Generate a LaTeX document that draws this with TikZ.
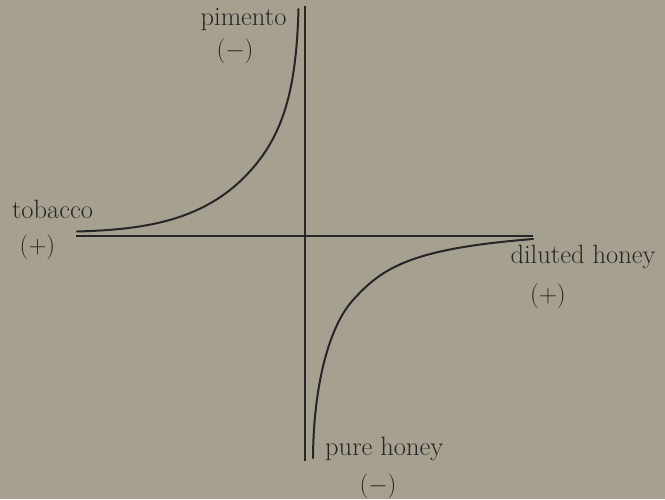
\documentclass[tikz,border=0pt]{standalone}
\usetikzlibrary{positioning}
\definecolor{paper}{RGB}{166,160,144}
\definecolor{ink}{RGB}{38,38,38}

\begin{document}
\begin{tikzpicture}[x=1pt, y=-1pt,
    axisline/.style={draw=ink, line width=2pt},
    curveline/.style={draw=ink, line width=2pt, line cap=round},
    lbl/.style={text=ink, font=\fontsize{26.5}{30}\selectfont, inner sep=0pt},
]
\fill[paper] (0,0) rectangle (665,499);
\useasboundingbox (0,0) rectangle (665,499);

% ===== AXES =====
\coordinate (xleft) at (76,236);
\coordinate (xright) at (533,236);
\coordinate (ytop) at (305,6);
\coordinate (ybot) at (305,461);
\draw[axisline] (xleft) -- (xright);
\draw[axisline] (ytop) -- (ybot);

% ===== CURVES =====
\coordinate (kneeup) at (257,163);
\coordinate (kneedown) at (353,300);
\draw[curveline] (77,231.5) .. controls (150,229.5) and (212,219.25) .. (kneeup)
    .. controls (287,125.5) and (296.5,79) .. (298.5,9);
\draw[curveline] (313,458) .. controls (313.5,388) and (328,327.75) .. (kneedown)
    .. controls (383,266.7) and (413,248.6) .. (533,239);

% ===== LABELS =====
\node[lbl, anchor=base] (pimento) at (243.5,25) {pimento};
\node[lbl] (pimentosign) at (235,51) {$(-)$};
\node[lbl, anchor=base] (tobacco) at (52.5,218) {tobacco};
\node[lbl] (tobaccosign) at (37.5,247) {$(+)$};
\node[lbl, anchor=base] (diluted) at (583,263) {diluted honey};
\node[lbl] (dilutedsign) at (548,296) {$(+)$};
\node[lbl, anchor=base west] (pure) at (325,455) {pure honey};
\node[lbl] (puresign) at (378,486) {$(-)$};

\end{tikzpicture}
\end{document}
